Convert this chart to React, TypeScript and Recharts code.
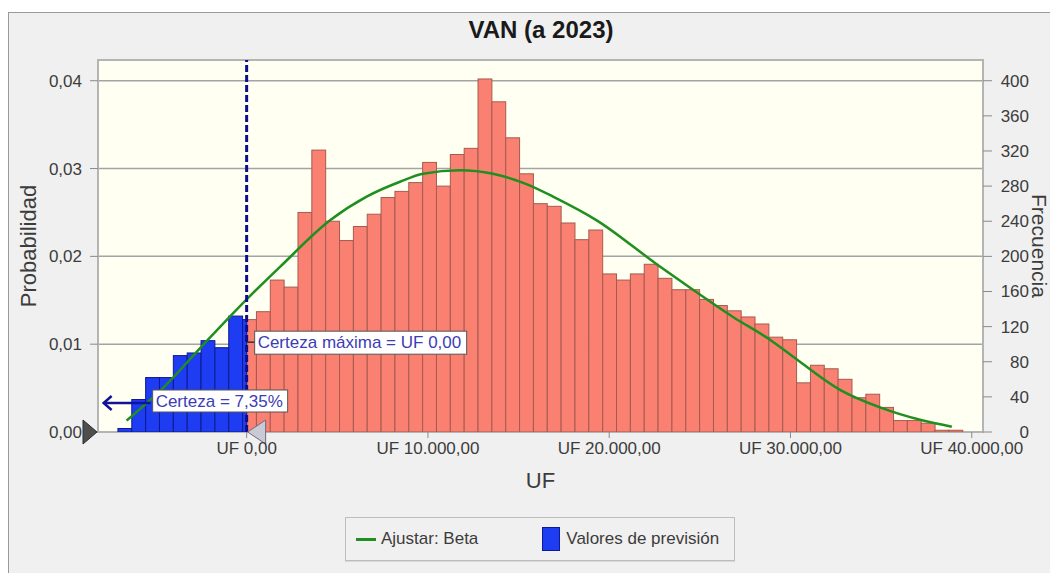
import React from "react";
import {
  Bar,
  CartesianGrid,
  ComposedChart,
  Line,
  ReferenceArea,
  ReferenceDot,
  ReferenceLine,
  XAxis,
  YAxis,
} from "recharts";

// histogram: 61 bins of 764 UF starting at UF -7.100
const binStart = -7100;
const binWidth = 764;
const frequency = [
  4, 37, 62, 62, 87, 90, 104, 96, 132,
  128, 137, 173, 165, 250, 321, 240, 218, 234, 248,
  267, 274, 284, 307, 280, 316, 323, 402, 376, 335,
  294, 260, 257, 238, 219, 230, 180, 173, 180, 191,
  175, 162, 162, 151, 144, 138, 131, 123, 108, 105,
  56, 76, 72, 60, 39, 43, 28, 13, 13, 10, 2, 2,
];

// beta fit (in frequency units)
const fitUF = [
  -6620, -4620, -2410, 0, 1840, 4600, 6620, 8460, 9730, 11770, 13590, 15470,
  16900, 19310, 22620, 24620, 26830, 28870, 30000, 32730, 34940, 37310, 38900,
];
const fitFrequency = [
  13, 50, 99, 151, 188, 241, 268, 285, 294, 298, 294, 282, 268, 241, 191, 162,
  131, 105, 88, 48, 28, 13, 6,
];

const xTicks = [0, 10000, 20000, 30000, 40000];
const probTicks = [0, 0.01, 0.02, 0.03, 0.04];
const freqTicks = [0, 40, 80, 120, 160, 200, 240, 280, 320, 360, 400];

const xDomain = [-8200, 40620];
const probMax = 0.04236;
const freqMax = 423.6;

const bins = frequency.map((count, i) => ({
  uf: binStart + (i + 0.5) * binWidth,
  count,
}));
const fit = fitUF.map((uf, i) => ({ uf, fit: fitFrequency[i] }));

const chartW = 1041;
const chartH = 520;
const margin = { top: 47, right: 17, bottom: 61, left: 29 };
const leftAxisW = 60;
const rightAxisW = 50;
const plotW = chartW - margin.left - margin.right - leftAxisW - rightAxisW;
const barPx = (binWidth * plotW) / (xDomain[1] - xDomain[0]);

const font = '"Liberation Sans", Arial, sans-serif';
const textColor = "#3c3c3c";
const navy = "#12129a";
const labelBlue = "#3c3cb4";
const blueFill = "#1e3cf2";
const blueEdge = "#0e1a92";
const redFill = "#fa8072";
const redEdge = "#a65a50";

function formatUF(v: number) {
  const int = Math.round(v)
    .toString()
    .replace(/\B(?=(\d{3})+(?!\d))/g, ".");
  return `UF ${int},00`;
}

// full-width histogram bar; the part below UF 0 is blue
const HistBar = (props: any) => {
  const { x, y, width, height, payload } = props;
  if (!height || height <= 0) return null;
  const left = x + width / 2 - barPx / 2;
  const binLeft = payload.uf - binWidth / 2;
  const split = Math.min(1, Math.max(0, -binLeft / binWidth)) * barPx;
  return (
    <g>
      {split < barPx && (
        <rect x={left + split} y={y} width={barPx - split} height={height} fill={redFill} stroke={redEdge} />
      )}
      {split > 0 && (
        <rect x={left} y={y} width={split} height={height} fill={blueFill} stroke={blueEdge} />
      )}
    </g>
  );
};

const RightTick = (props: any) => {
  const { x, y, payload } = props;
  return (
    <text
      x={x + 32}
      y={y}
      dy={6}
      textAnchor="end"
      fontSize={17}
      fontFamily={font}
      fill={textColor}
    >
      {payload.value}
    </text>
  );
};

const StartMarker = (props: any) => {
  const { cx, cy } = props;
  return (
    <polygon
      points={`${cx - 15},${cy - 12} ${cx - 1},${cy} ${cx - 15},${cy + 12}`}
      fill="#4e4e4e"
      stroke="#2c2c2c"
    />
  );
};

const ZeroMarker = (props: any) => {
  const { cx, cy } = props;
  return (
    <polygon
      points={`${cx + 1},${cy} ${cx + 19},${cy - 12} ${cx + 19},${cy + 12}`}
      fill="#cacad6"
      stroke="#6c6c7c"
    />
  );
};

const MaxLabel = (props: any) => {
  const { cx, cy } = props;
  return (
    <g>
      <line x1={cx} y1={cy - 2} x2={cx + 8} y2={cy - 2} stroke="#333" strokeWidth={1.5} />
      <rect x={cx + 8} y={cy - 13} width={212} height={23} fill="#fff" stroke="#555" />
      <text x={cx + 11} y={cy + 4} fontSize={17} fontFamily={font} fill={labelBlue}>
        Certeza máxima = UF 0,00
      </text>
    </g>
  );
};

const CertaintyLabel = (props: any) => {
  const { cx, cy } = props;
  const ay = cy - 29;
  return (
    <g>
      <line x1={cx - 143} y1={ay} x2={cx - 96} y2={ay} stroke={navy} strokeWidth={2.5} />
      <polyline
        points={`${cx - 135},${ay - 7} ${cx - 143},${ay} ${cx - 135},${ay + 7}`}
        fill="none"
        stroke={navy}
        strokeWidth={2.5}
      />
      <rect x={cx - 94} y={cy - 42} width={135} height={22} fill="#fff" stroke="#555" />
      <text x={cx - 91} y={cy - 25} fontSize={17} fontFamily={font} fill={labelBlue}>
        Certeza = 7,35%
      </text>
    </g>
  );
};

export default function App() {
  return (
    <div
      style={{
        position: "fixed",
        left: 8,
        top: 12,
        width: 1042,
        height: 561,
        background: "#f0f0f0",
        borderLeft: "1px solid #9a9a9a",
        borderTop: "1px solid #9a9a9a",
        overflow: "hidden",
        fontFamily: font,
      }}
    >
      <div
        style={{
          position: "absolute",
          left: 532,
          top: 4,
          transform: "translateX(-50%)",
          fontSize: 24,
          fontWeight: "bold",
          lineHeight: "26px",
          color: "#1a1a1a",
          whiteSpace: "nowrap",
        }}
      >
        VAN (a 2023)
      </div>

      <div style={{ position: "absolute", left: 0, top: 0 }}>
        <ComposedChart
          width={chartW}
          height={chartH}
          data={bins}
          margin={margin}
          barCategoryGap={0}
          barGap={0}
        >
          <CartesianGrid
            yAxisId="prob"
            vertical={false}
            horizontalValues={probTicks}
            stroke="#a4a4a4"
            strokeWidth={1.5}
            fill="#fffff2"
          />
          <XAxis
            dataKey="uf"
            type="number"
            domain={xDomain}
            allowDataOverflow
            ticks={xTicks}
            tickFormatter={formatUF}
            axisLine={false}
            tickSize={6}
            tickMargin={4}
            height={40}
            tick={{ fontSize: 17, fontFamily: font, fill: textColor }}
            tickLine={{ stroke: "#8a8a8a" }}
            label={{
              value: "UF",
              position: "bottom",
              offset: 0,
              fontSize: 22,
              fontFamily: font,
              fill: textColor,
            }}
          />
          <YAxis
            yAxisId="prob"
            orientation="left"
            domain={[0, probMax]}
            allowDataOverflow
            ticks={probTicks}
            tickFormatter={(v: number) => v.toFixed(2).replace(".", ",")}
            axisLine={false}
            tickSize={8}
            tickMargin={8}
            width={leftAxisW}
            tick={{ fontSize: 17, fontFamily: font, fill: textColor }}
            tickLine={{ stroke: "#8a8a8a" }}
            label={{
              value: "Probabilidad",
              angle: -90,
              position: "insideLeft",
              offset: -10,
              fontSize: 22,
              fontFamily: font,
              fill: textColor,
              style: { textAnchor: "middle" },
            }}
          />
          <YAxis
            yAxisId="freq"
            orientation="right"
            domain={[0, freqMax]}
            allowDataOverflow
            ticks={freqTicks}
            axisLine={false}
            tickSize={9}
            tickMargin={5}
            width={rightAxisW}
            tick={RightTick}
            tickLine={{ stroke: "#8a8a8a" }}
            label={{
              value: "Frecuencia",
              angle: 90,
              position: "insideRight",
              offset: -6,
              fontSize: 21,
              fontFamily: font,
              fill: textColor,
              style: { textAnchor: "middle" },
            }}
          />
          <Bar
            dataKey="count"
            yAxisId="freq"
            shape={HistBar}
            isAnimationActive={false}
          />
          <Line
            data={fit}
            dataKey="fit"
            yAxisId="freq"
            type="monotone"
            stroke="#1f8f1f"
            strokeWidth={2.5}
            dot={false}
            isAnimationActive={false}
          />
          <ReferenceArea
            yAxisId="prob"
            x1={xDomain[0]}
            x2={xDomain[1]}
            y1={0}
            y2={probMax}
            fill="none"
            stroke="#b4b4b4"
            strokeWidth={2}
          />
          <ReferenceLine
            x={0}
            yAxisId="prob"
            stroke="#0c0c8c"
            strokeWidth={3}
            strokeDasharray="7 3"
          />
          <ReferenceDot x={0} y={0.01} yAxisId="prob" shape={MaxLabel} ifOverflow="visible" />
          <ReferenceDot x={0} y={0} yAxisId="prob" shape={CertaintyLabel} ifOverflow="visible" />
          <ReferenceDot x={xDomain[0]} y={0} yAxisId="prob" shape={StartMarker} ifOverflow="visible" />
          <ReferenceDot x={0} y={0} yAxisId="prob" shape={ZeroMarker} ifOverflow="visible" />
        </ComposedChart>
      </div>

      <div
        style={{
          position: "absolute",
          left: 336,
          top: 504,
          width: 388,
          height: 42,
          border: "1px solid #bdbdbd",
          boxShadow: "0 1px 0 #d8d8d8",
          display: "flex",
          alignItems: "center",
          fontSize: 17,
          color: textColor,
        }}
      >
        <span style={{ display: "inline-block", width: 20, height: 3, background: "#1f8f1f", marginLeft: 10, marginRight: 5 }} />
        <span>Ajustar: Beta</span>
        <span style={{ display: "inline-block", width: 16, height: 22, background: blueFill, border: `1px solid ${blueEdge}`, marginLeft: 64, marginRight: 6 }} />
        <span>Valores de previsión</span>
      </div>
    </div>
  );
}
